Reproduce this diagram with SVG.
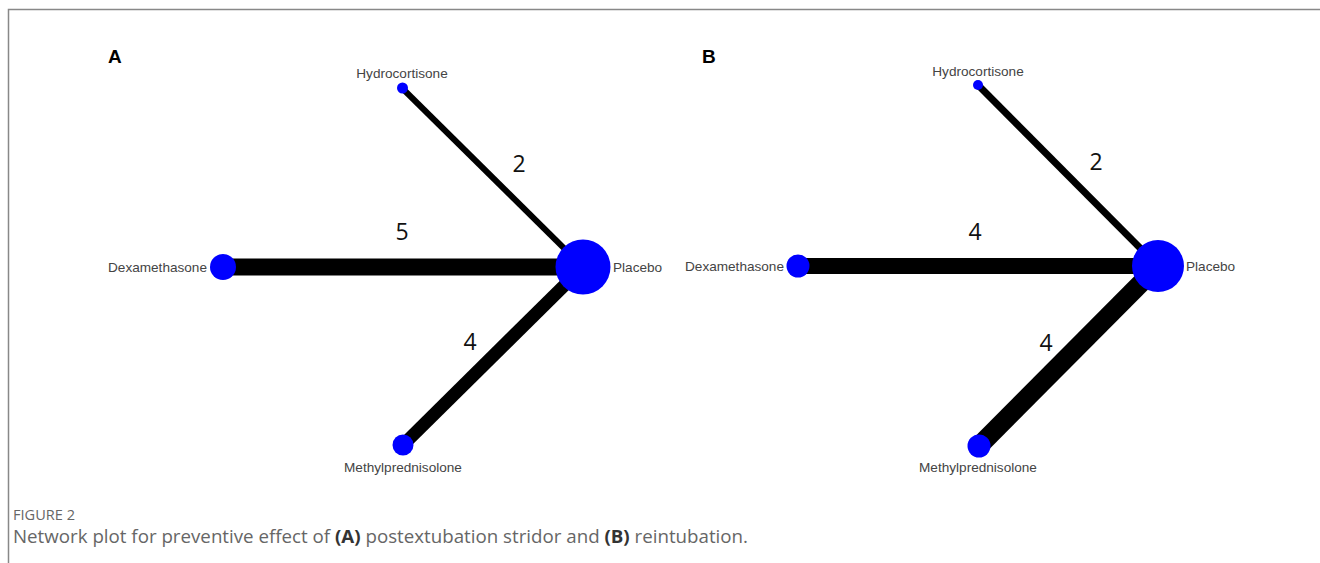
<svg xmlns="http://www.w3.org/2000/svg" width="1320" height="563" viewBox="0 0 1320 563">
<style>
.node{fill:#0000ff}
.edge{stroke:#000;stroke-linecap:butt}
.lbl{font-family:"Liberation Sans",Arial,sans-serif;font-size:13.6px;fill:#444}
.num{font-family:"Open Sans","Noto Sans",sans-serif;font-size:23px;fill:#111;text-anchor:middle}
.panel{font-family:"Liberation Sans",Arial,sans-serif;font-size:19px;font-weight:bold;fill:#000}
.cap{font-family:"Open Sans","Noto Sans",sans-serif;fill:#666}
</style>
<rect width="1320" height="563" fill="#fff"/>
<path d="M8.5 563 V9.5 H1320" fill="none" stroke="#888" stroke-width="1.5"/>
<text class="panel" x="108" y="63">A</text>
<text class="panel" x="702" y="63">B</text>
<g id="connectors">
<line class="edge" x1="402" y1="88" x2="583" y2="267" stroke-width="6"/>
<line class="edge" x1="223" y1="267" x2="583" y2="267" stroke-width="17"/>
<line class="edge" x1="403" y1="445" x2="583" y2="267" stroke-width="13"/>
<line class="edge" x1="978" y1="85" x2="1158" y2="266" stroke-width="7"/>
<line class="edge" x1="798" y1="266" x2="1158" y2="266" stroke-width="16"/>
<line class="edge" x1="979" y1="446" x2="1158" y2="266" stroke-width="19"/>
<text class="num" x="519" y="172">2</text>
<text class="num" x="402" y="240">5</text>
<text class="num" x="470" y="350">4</text>
<text class="num" x="1096" y="170">2</text>
<text class="num" x="975" y="240">4</text>
<text class="num" x="1046" y="351">4</text>
</g>
<g id="A-placebo"><circle class="node" cx="583" cy="267" r="27.5"/><text class="lbl" x="613" y="272">Placebo</text></g>
<g id="A-dexamethasone"><circle class="node" cx="223" cy="267" r="13"/><text class="lbl" x="207" y="272" text-anchor="end">Dexamethasone</text></g>
<g id="A-hydrocortisone"><circle class="node" cx="402.5" cy="88" r="5.5"/><text class="lbl" x="402" y="78" text-anchor="middle">Hydrocortisone</text></g>
<g id="A-methylprednisolone"><circle class="node" cx="403" cy="445" r="10.5"/><text class="lbl" x="403" y="472" text-anchor="middle">Methylprednisolone</text></g>
<g id="B-placebo"><circle class="node" cx="1158" cy="266" r="26"/><text class="lbl" x="1186" y="271">Placebo</text></g>
<g id="B-dexamethasone"><circle class="node" cx="798" cy="266" r="11.5"/><text class="lbl" x="784" y="271" text-anchor="end">Dexamethasone</text></g>
<g id="B-hydrocortisone"><circle class="node" cx="978" cy="85" r="5"/><text class="lbl" x="978" y="76" text-anchor="middle">Hydrocortisone</text></g>
<g id="B-methylprednisolone"><circle class="node" cx="979" cy="446" r="11.5"/><text class="lbl" x="978" y="472" text-anchor="middle">Methylprednisolone</text></g>
<text class="cap" x="13" y="520" font-size="14" textLength="62" lengthAdjust="spacingAndGlyphs">FIGURE 2</text>
<text class="cap" x="13" y="543" font-size="17.5" textLength="735" lengthAdjust="spacingAndGlyphs">Network plot for preventive effect of <tspan font-weight="bold" fill="#333">(A)</tspan> postextubation stridor and <tspan font-weight="bold" fill="#333">(B)</tspan> reintubation.</text>
</svg>
